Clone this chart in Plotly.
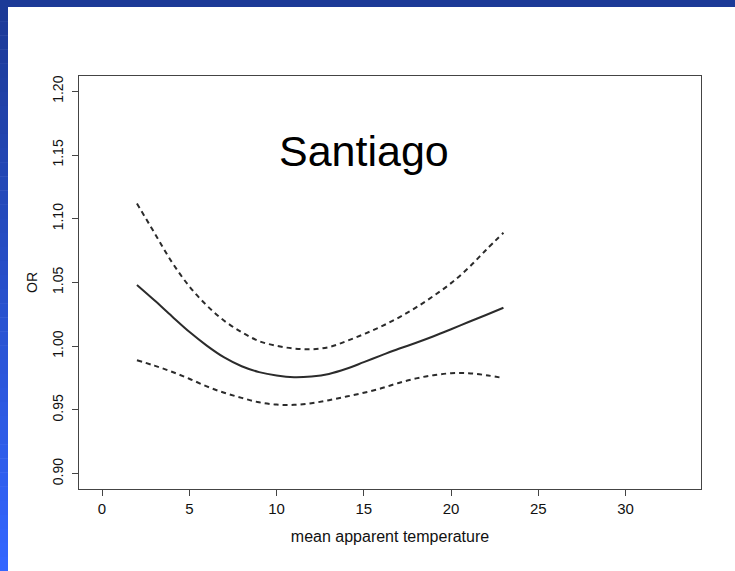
import plotly.graph_objects as go

# ---- data ----
temp = [2, 3, 4, 5, 6, 7, 8, 9, 10, 11, 12, 13, 14, 15, 16, 17, 18, 19, 20, 21, 22, 23]
or_fit = [1.048, 1.036, 1.0235, 1.0113, 1.0005, 0.9912, 0.9843, 0.9797, 0.977, 0.9757,
          0.9763, 0.9783, 0.9823, 0.9875, 0.9928, 0.998, 1.0027, 1.0078, 1.0133, 1.019,
          1.0245, 1.0302]
or_upper = [1.112, 1.089, 1.066, 1.047, 1.032, 1.020, 1.011, 1.004, 1.0003, 0.9982,
            0.9976, 0.9993, 1.004, 1.0095, 1.0155, 1.0225, 1.0305, 1.0395, 1.0495, 1.0615,
            1.0755, 1.089]
or_lower = [0.989, 0.9848, 0.980, 0.9745, 0.9685, 0.9635, 0.9595, 0.9560, 0.9542, 0.9540,
            0.9553, 0.9577, 0.9605, 0.9635, 0.967, 0.9712, 0.9748, 0.9773, 0.9788, 0.9788,
            0.9773, 0.975]
x_ticks = [0, 5, 10, 15, 20, 25, 30]
y_ticks = [0.90, 0.95, 1.00, 1.05, 1.10, 1.15, 1.20]
y_tick_text = ["0.90", "0.95", "1.00", "1.05", "1.10", "1.15", "1.20"]
title_text = "Santiago"
x_label = "mean apparent temperature"
y_label = "OR"

W, H = 735, 571
ML, MR, MT, MB = 79, 34, 76, 82
PW, PH = W - ML - MR, H - MT - MB
FONT = "Liberation Sans, Arial, Helvetica, sans-serif"
LINE = "#2b2b2b"

fig = go.Figure()
fig.add_trace(go.Scatter(x=temp, y=or_upper, mode="lines", line=dict(color=LINE, width=2, dash="5px,4px", shape="spline"), showlegend=False))
fig.add_trace(go.Scatter(x=temp, y=or_lower, mode="lines", line=dict(color=LINE, width=2, dash="5px,4px", shape="spline"), showlegend=False))
fig.add_trace(go.Scatter(x=temp, y=or_fit, mode="lines", line=dict(color=LINE, width=2, shape="spline"), showlegend=False))

def px_to_paper_x(px):
    return (px - ML) / PW

def py_to_paper_y(py):
    return (H - MB - py) / PH

shapes = []
# top blue band
shapes.append(dict(type="rect", xref="paper", yref="paper", layer="above",
                   x0=px_to_paper_x(0), x1=px_to_paper_x(W), y0=py_to_paper_y(7), y1=py_to_paper_y(0),
                   fillcolor="#1c3a97", line=dict(width=0)))
# left band with vertical gradient
n = 40
c0 = (0x1c, 0x3a, 0x97)
c1 = (0x33, 0x66, 0xff)
for i in range(n):
    t = i / (n - 1)
    col = "rgb(%d,%d,%d)" % tuple(round(a + (b - a) * t) for a, b in zip(c0, c1))
    y0p = 7 + (H - 7) * i / n
    y1p = 7 + (H - 7) * (i + 1) / n + 0.5
    shapes.append(dict(type="rect", xref="paper", yref="paper", layer="above",
                       x0=px_to_paper_x(0), x1=px_to_paper_x(8), y0=py_to_paper_y(y1p), y1=py_to_paper_y(y0p),
                       fillcolor=col, line=dict(width=0)))

fig.update_layout(
    width=W, height=H,
    margin=dict(l=ML, r=MR, t=MT, b=MB, pad=0),
    paper_bgcolor="white", plot_bgcolor="white",
    font=dict(family=FONT, color="#111111"),
    shapes=shapes,
    annotations=[dict(x=15, y=1.15, xref="x", yref="y", text=title_text, showarrow=False, yshift=4,
                      font=dict(family=FONT, size=43, color="black"), xanchor="center", yanchor="middle")],
)
fig.update_xaxes(range=[-1.32, 34.32], tickvals=x_ticks, ticks="outside", ticklen=6, tickcolor="#444",
                 showline=True, linecolor="#444", linewidth=1, mirror=True, showgrid=False, zeroline=False,
                 tickfont=dict(size=15, family=FONT, color="#111"),
                 title=dict(text=x_label, font=dict(size=16, family=FONT, color="#111"), standoff=14))
fig.update_yaxes(range=[0.888, 1.212], tickvals=y_ticks, ticktext=y_tick_text, ticks="outside", ticklen=6, tickcolor="#444",
                 tickangle=-90, ticklabelstandoff=3,
                 showline=True, linecolor="#444", linewidth=1, mirror=True, showgrid=False, zeroline=False,
                 tickfont=dict(size=14, family=FONT, color="#111"),
                 title=dict(text=y_label, font=dict(size=14, family=FONT, color="#111"), standoff=9))

fig.write_html("out.html", config={"displayModeBar": False},
               post_script="document.body.style.margin='0';document.body.style.overflow='hidden';")
